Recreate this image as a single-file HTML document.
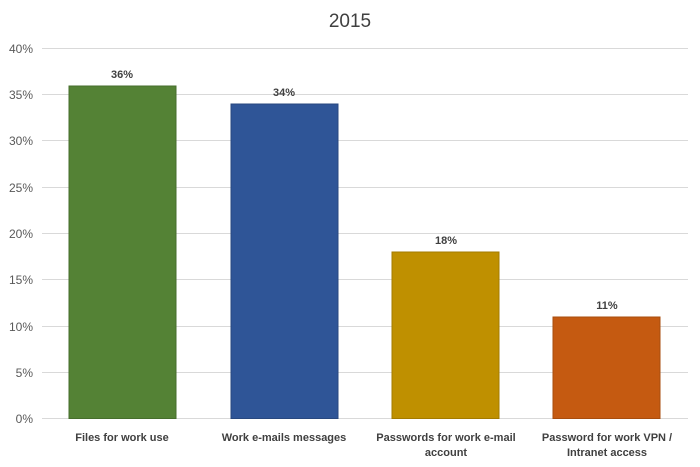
<!DOCTYPE html>
<html><head><meta charset="utf-8"><style>
html,body{margin:0;padding:0;background:#fff;}
svg{display:block;font-family:"Liberation Sans",sans-serif;}
</style></head><body>
<svg width="700" height="467" viewBox="0 0 700 467">
<rect width="700" height="467" fill="#fff"/>
<text x="350" y="27" text-anchor="middle" font-size="19" fill="#404040">2015</text>
<g stroke="#d9d9d9" stroke-width="1">
<line x1="42" x2="688" y1="48.5" y2="48.5"/>
<line x1="42" x2="688" y1="94.5" y2="94.5"/>
<line x1="42" x2="688" y1="140.5" y2="140.5"/>
<line x1="42" x2="688" y1="187.5" y2="187.5"/>
<line x1="42" x2="688" y1="233.5" y2="233.5"/>
<line x1="42" x2="688" y1="279.5" y2="279.5"/>
<line x1="42" x2="688" y1="326.5" y2="326.5"/>
<line x1="42" x2="688" y1="372.5" y2="372.5"/>
<line x1="42" x2="688" y1="418.5" y2="418.5"/>
</g>
<g font-size="12" fill="#595959" text-anchor="end">
<text x="33" y="53">40%</text>
<text x="33" y="99">35%</text>
<text x="33" y="145">30%</text>
<text x="33" y="192">25%</text>
<text x="33" y="238">20%</text>
<text x="33" y="284">15%</text>
<text x="33" y="331">10%</text>
<text x="33" y="377">5%</text>
<text x="33" y="423">0%</text>
</g>
<rect x="69" y="86" width="107" height="332.5" fill="#548235" stroke="#466e2c" stroke-width="1"/>
<rect x="231" y="104" width="107" height="314.5" fill="#2f5597" stroke="#28487f" stroke-width="1"/>
<rect x="392" y="252" width="107" height="166.5" fill="#bf9000" stroke="#a37b00" stroke-width="1"/>
<rect x="553" y="317" width="107" height="101.5" fill="#c55a11" stroke="#a84d0e" stroke-width="1"/>
<g font-size="11" font-weight="bold" fill="#404040" text-anchor="middle">
<text x="122" y="78">36%</text>
<text x="284" y="96">34%</text>
<text x="446" y="244">18%</text>
<text x="607" y="309">11%</text>
</g>
<g font-size="11" font-weight="bold" fill="#404040" text-anchor="middle">
<text x="122" y="441">Files for work use</text>
<text x="284" y="441">Work e-mails messages</text>
<text x="446" y="441">Passwords for work e-mail</text>
<text x="446" y="456">account</text>
<text x="607" y="441">Password for work VPN /</text>
<text x="607" y="456">Intranet access</text>
</g>
</svg>
</body></html>
